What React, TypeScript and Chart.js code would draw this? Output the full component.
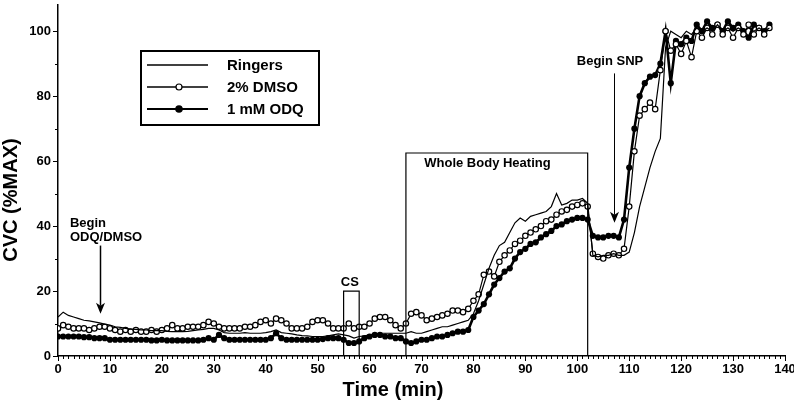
import React, { useEffect, useRef } from 'react';
import { Chart, registerables } from 'chart.js';

Chart.register(...registerables);

// ---------- data ----------
const timeMin = [
  0, 1, 2, 3, 4, 5, 6, 7, 8, 9, 10, 11, 12, 13, 14, 15, 16, 17, 18, 19,
  20, 21, 22, 23, 24, 25, 26, 27, 28, 29, 30, 31, 32, 33, 34, 35, 36, 37, 38, 39,
  40, 41, 42, 43, 44, 45, 46, 47, 48, 49, 50, 51, 52, 53, 54, 55, 56, 57, 58, 59,
  60, 61, 62, 63, 64, 65, 66, 67, 68, 69, 70, 71, 72, 73, 74, 75, 76, 77, 78, 79,
  80, 81, 82, 83, 84, 85, 86, 87, 88, 89, 90, 91, 92, 93, 94, 95, 96, 97, 98, 99,
  100, 101, 102, 103, 104, 105, 106, 107, 108, 109, 110, 111, 112, 113, 114, 115, 116, 117, 118, 119,
  120, 121, 122, 123, 124, 125, 126, 127, 128, 129, 130, 131, 132, 133, 134, 135, 136, 137,
];

const ringers = [
  12, 13.5, 12.5, 12, 11.5, 11, 10.8, 10.5, 10.2, 9.8, 9.5, 9, 8.8, 8.5, 8.3, 8.2, 8, 8, 7.8, 7.8,
  7.8, 7.6, 7.5, 7.5, 7.5, 7.6, 7.8, 8, 8.2, 8.5, 8.5, 8, 7.2, 7, 7, 7, 7.2, 7, 7, 7,
  7.2, 7.5, 8, 7.2, 7, 6.8, 6.5, 6.3, 6.2, 6, 6, 6, 6.2, 6.5, 6.8, 6.5, 6.2, 5.5, 6, 6.2,
  6.5, 6.8, 7, 7, 7, 7, 7, 7, 7.5, 7, 7, 7.5, 8, 8.5, 9, 9, 9.5, 10, 10.5, 11,
  13, 17, 22, 27, 31, 34, 35, 38, 41, 42.5, 41.5, 43, 43.5, 44, 44.5, 46, 50, 46.5, 47, 48,
  48, 48.5, 47, 31, 30.5, 31, 31, 31.5, 31, 31, 32, 38, 46, 52, 58, 63, 67, 95, 100, 99,
  98, 100, 99, 101, 100, 101, 100, 102, 100, 101, 100, 101, 100, 101, 100, 101, 100, 101,
];

const dmso = [
  8.5, 9.5, 9, 8.5, 8.5, 8.5, 8, 8.5, 9, 9, 8.5, 8, 7.5, 8, 7.5, 8, 7.5, 7.5, 8, 7.5,
  8, 8.5, 9.5, 8.5, 8.5, 9, 9, 9, 9.5, 10.5, 10, 9, 8.5, 8.5, 8.5, 8.5, 9, 9, 9.5, 10.5,
  11, 10, 11.5, 11, 10, 8.5, 8.5, 8.5, 9, 10.5, 11, 11, 10, 8.5, 8.5, 8.5, 10, 8.5, 9, 9,
  10, 11.5, 12, 12, 11, 9.5, 8.5, 10, 13, 13.5, 12.5, 11, 11.5, 12, 12.5, 13, 14, 14, 13.5, 14.5,
  17, 19, 25, 26, 24.5, 29, 31, 32.5, 34.5, 35.5, 37, 38, 39, 40, 41.5, 42, 43.5, 44.5, 45, 46,
  46.5, 47, 46, 31.5, 30.5, 30, 31, 31.5, 31, 33, 46, 63, 74, 76, 78, 76, 88, 100, 94, 96,
  93, 97, 92, 100, 98, 101, 99, 102, 99, 101, 98, 101, 99, 102, 99, 101, 99, 101,
];

const odq = [
  6, 6, 6, 6, 6, 5.8, 5.8, 5.5, 5.5, 5.5, 5, 5, 5, 5, 5, 5, 5, 5, 4.8, 4.8,
  5, 4.8, 4.8, 4.8, 4.8, 4.8, 4.8, 4.8, 5, 5.5, 5, 6.5, 5.5, 5, 5, 5, 5, 5, 5, 5,
  5, 5.5, 7, 5.5, 5, 5, 5, 5, 5, 5, 5, 5.2, 5.5, 5.5, 5.5, 5, 4, 4, 4.5, 5.5,
  6, 6.5, 6.5, 6, 6, 5.5, 5.5, 4.5, 4, 4.5, 5, 5, 5.5, 6, 6, 6.5, 7, 7.5, 7.5, 8,
  12, 14, 16, 19, 22, 24, 26, 27, 30, 32, 33, 34.5, 35, 36.5, 37.5, 38.5, 40, 40.5, 41.5, 42,
  42.5, 42.5, 42, 37, 36.5, 36.5, 37, 37, 36.5, 42, 58, 70, 80, 84, 86, 86.5, 90, 100, 84, 97,
  96, 98, 97, 102, 100, 103, 101, 102, 100, 103, 101, 102, 100, 98, 102, 101, 100, 102,
];

const seriesNames = ['Ringers', '2% DMSO', '1 mM ODQ'];
const xTickValues = [0, 10, 20, 30, 40, 50, 60, 70, 80, 90, 100, 110, 120, 130, 140];
const yTickValues = [0, 20, 40, 60, 80, 100];
const xTitle = 'Time (min)';
const yTitle = 'CVC (%MAX)';

// annotations in data units
const csBox = { x0: 55, x1: 58, top: 20, label: 'CS' };
const heatBox = { x0: 67, x1: 102, top: 62.5, label: 'Whole Body Heating' };
const odqArrow = { x: 8, from: 34, to: 13, lines: ['Begin', 'ODQ/DMSO'] };
const snpArrow = { x: 107, from: 87, to: 41, label: 'Begin SNP' };

const FONT = '"Liberation Sans", Arial, Helvetica, sans-serif';

function line(ctx: CanvasRenderingContext2D, x1: number, y1: number, x2: number, y2: number) {
  ctx.beginPath();
  ctx.moveTo(x1, y1);
  ctx.lineTo(x2, y2);
  ctx.stroke();
}

function arrowDown(ctx: CanvasRenderingContext2D, x: number, y1: number, y2: number, lw: number) {
  ctx.lineWidth = lw;
  line(ctx, x, y1, x, y2 - 8);
  ctx.beginPath();
  ctx.moveTo(x, y2);
  ctx.lineTo(x - 4.5, y2 - 11);
  ctx.lineTo(x, y2 - 8);
  ctx.lineTo(x + 4.5, y2 - 11);
  ctx.closePath();
  ctx.fill();
}

const overlayPlugin = {
  id: 'overlay',
  afterDraw(chart: any) {
    const ctx: CanvasRenderingContext2D = chart.ctx;
    const xs = chart.scales.x;
    const ys = chart.scales.y;
    const { left, bottom } = chart.chartArea;
    ctx.save();
    ctx.strokeStyle = '#000';
    ctx.fillStyle = '#000';

    // x ticks (minor each minute)
    ctx.lineWidth = 1;
    for (let t = 0; t <= 140; t += 1) {
      const px = Math.round(xs.getPixelForValue(t)) + 0.5;
      line(ctx, px, bottom, px, bottom + (t % 10 === 0 ? 5 : 3));
    }
    // y ticks (minor each 10)
    for (let v = 0; v <= 100; v += 10) {
      const py = Math.round(ys.getPixelForValue(v)) + 0.5;
      line(ctx, left, py, left - (v % 20 === 0 ? 5 : 3), py);
    }

    // axis titles
    ctx.font = `bold 20px ${FONT}`;
    ctx.textAlign = 'center';
    ctx.textBaseline = 'middle';
    ctx.fillText(xTitle, 393, 390);
    ctx.save();
    ctx.translate(17, 200);
    ctx.rotate(-Math.PI / 2);
    ctx.textBaseline = 'alphabetic';
    ctx.fillText(yTitle, 0, 0);
    ctx.restore();

    // legend
    ctx.lineWidth = 2;
    ctx.strokeRect(141, 51, 178, 74);
    const rows = [65, 87, 109];
    ctx.font = `bold 15px ${FONT}`;
    ctx.textAlign = 'left';
    ctx.textBaseline = 'middle';
    rows.forEach((ry, i) => {
      ctx.lineWidth = i === 2 ? 2.2 : 1.5;
      line(ctx, 147, ry, 208, ry);
      if (i === 1) {
        ctx.beginPath();
        ctx.arc(179, ry, 3, 0, Math.PI * 2);
        ctx.fillStyle = '#fff';
        ctx.fill();
        ctx.lineWidth = 1.2;
        ctx.stroke();
        ctx.fillStyle = '#000';
      } else if (i === 2) {
        ctx.beginPath();
        ctx.arc(179, ry, 3.8, 0, Math.PI * 2);
        ctx.fill();
      }
      ctx.fillText(seriesNames[i], 227, ry + 1);
    });

    // annotation boxes
    ctx.lineWidth = 1.2;
    const drawBox = (b: any) => {
      const x0 = xs.getPixelForValue(b.x0);
      const x1 = xs.getPixelForValue(b.x1);
      const yt = ys.getPixelForValue(b.top);
      ctx.beginPath();
      ctx.moveTo(x0, bottom);
      ctx.lineTo(x0, yt);
      ctx.lineTo(x1, yt);
      ctx.lineTo(x1, bottom);
      ctx.stroke();
    };
    drawBox(csBox);
    drawBox(heatBox);

    ctx.font = `bold 13px ${FONT}`;
    ctx.textAlign = 'center';
    ctx.textBaseline = 'middle';
    ctx.fillText(csBox.label, xs.getPixelForValue(56.2), ys.getPixelForValue(22.7));
    ctx.fillText(heatBox.label, xs.getPixelForValue(82.7), ys.getPixelForValue(59.4));
    ctx.fillText(snpArrow.label, xs.getPixelForValue(106.3), ys.getPixelForValue(90.7));
    ctx.textAlign = 'left';
    ctx.fillText(odqArrow.lines[0], xs.getPixelForValue(2.3), ys.getPixelForValue(40.9));
    ctx.fillText(odqArrow.lines[1], xs.getPixelForValue(2.3), ys.getPixelForValue(36.4));

    // arrows
    arrowDown(ctx, Math.round(xs.getPixelForValue(odqArrow.x)) + 0.5, ys.getPixelForValue(odqArrow.from), ys.getPixelForValue(odqArrow.to), 1.5);
    arrowDown(ctx, Math.round(xs.getPixelForValue(snpArrow.x)) + 0.5, ys.getPixelForValue(snpArrow.from), ys.getPixelForValue(snpArrow.to), 1);

    ctx.restore();
  },
};

export default function App() {
  const canvasRef = useRef<HTMLCanvasElement | null>(null);

  useEffect(() => {
    const canvas = canvasRef.current;
    if (!canvas) return;
    const mk = (vals: number[]) => timeMin.map((t, i) => ({ x: t, y: vals[i] }));
    const chart = new Chart(canvas, {
      type: 'line',
      data: {
        datasets: [
          {
            label: seriesNames[0],
            data: mk(ringers),
            borderColor: '#000',
            borderWidth: 1.2,
            pointRadius: 0,
            tension: 0,
          },
          {
            label: seriesNames[1],
            data: mk(dmso),
            borderColor: '#000',
            borderWidth: 1.2,
            pointRadius: 2.7,
            pointBackgroundColor: '#fff',
            pointBorderColor: '#000',
            pointBorderWidth: 1.2,
            tension: 0,
          },
          {
            label: seriesNames[2],
            data: mk(odq),
            borderColor: '#000',
            borderWidth: 2.6,
            pointRadius: 3.1,
            pointBackgroundColor: '#000',
            pointBorderColor: '#000',
            pointBorderWidth: 0,
            tension: 0,
          },
        ],
      },
      options: {
        responsive: false,
        animation: false,
        layout: { padding: { left: 0, right: 9, top: 0, bottom: 0 } },
        plugins: { legend: { display: false }, tooltip: { enabled: false } },
        scales: {
          x: {
            type: 'linear',
            min: 0,
            max: 140,
            afterBuildTicks: (s: any) => {
              s.ticks = xTickValues.map((v) => ({ value: v }));
            },
            afterFit: (s: any) => {
              s.height = 46;
              s.paddingLeft = 0;
              s.paddingRight = 0;
            },
            ticks: {
              autoSkip: false,
              maxRotation: 0,
              padding: 1,
              color: '#000',
              font: { family: FONT, weight: 'bold', size: 13 },
            },
            grid: { display: false, drawTicks: true, tickLength: 5 },
            border: { display: true, color: '#000', width: 1.5 },
          },
          y: {
            type: 'linear',
            min: 0,
            max: 108,
            afterBuildTicks: (s: any) => {
              s.ticks = yTickValues.map((v) => ({ value: v }));
            },
            afterFit: (s: any) => {
              s.width = 58;
              s.paddingTop = 0;
              s.paddingBottom = 0;
            },
            ticks: {
              padding: 2,
              color: '#000',
              font: { family: FONT, weight: 'bold', size: 13 },
            },
            grid: { display: false, drawTicks: true, tickLength: 5 },
            border: { display: true, color: '#000', width: 1.5 },
          },
        },
      },
      plugins: [overlayPlugin],
    } as any);
    return () => chart.destroy();
  }, []);

  return (
    <div style={{ position: 'fixed', left: 0, top: 0, width: 794, height: 402, background: '#fff' }}>
      <canvas ref={canvasRef} width={794} height={402} style={{ display: 'block', width: 794, height: 402 }} />
    </div>
  );
}
